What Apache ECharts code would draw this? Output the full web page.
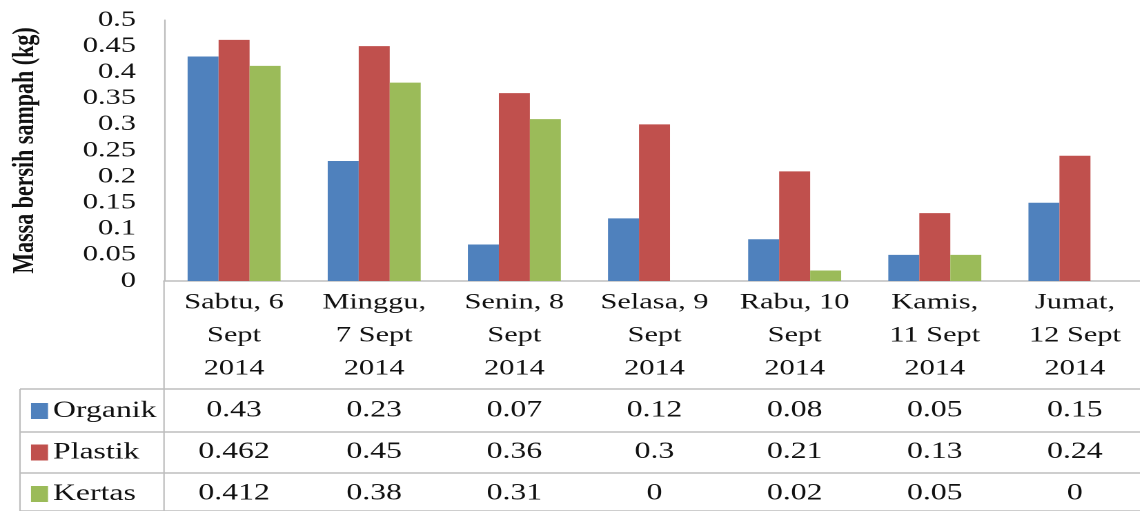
<!DOCTYPE html>
<html>
<head>
<meta charset="utf-8">
<script src="https://cdn.jsdelivr.net/npm/echarts@6/dist/echarts.min.js"></script>
<style>
  html, body { margin: 0; padding: 0; background: #fff; overflow: hidden; }
  #chart { height: 511px; transform-origin: 0 0; }
</style>
</head>
<body>
<div id="chart"></div>
<script>
// data
var categories = ['Sabtu, 6\nSept\n2014', 'Minggu,\n7 Sept\n2014', 'Senin, 8\nSept\n2014',
  'Selasa, 9\nSept\n2014', 'Rabu, 10\nSept\n2014', 'Kamis,\n11 Sept\n2014', 'Jumat,\n12 Sept\n2014'];
var seriesNames = ['Organik', 'Plastik', 'Kertas'];
var organik = [0.43, 0.23, 0.07, 0.12, 0.08, 0.05, 0.15];
var plastik = [0.462, 0.45, 0.36, 0.3, 0.21, 0.13, 0.24];
var kertas = [0.412, 0.38, 0.31, 0, 0.02, 0.05, 0];
var colors = ['#4F81BD', '#C0504D', '#9BBB59'];

// the original picture is stretched sideways, so draw narrow and stretch the div
var S = 1.38;
var font = 'Liberation Serif';
var lineColor = '#bdbdbd';
var textColor = '#111';
var allValues = [organik, plastik, kertas];
function px(x) { return x / S; }

var dom = document.getElementById('chart');
dom.style.width = px(1140) + 'px';
dom.style.transform = 'scaleX(' + S + ')';
var chart = echarts.init(dom, null, { renderer: 'canvas', devicePixelRatio: 2 });

// each table row is an extra category axis that only shows its labels
var tableAxes = allValues.map(function(vals, k) {
  return {
    type: 'category',
    data: categories,
    position: 'bottom',
    offset: 110 + k * 41.5,
    axisLine: { show: false },
    axisTick: { show: false },
    axisLabel: {
      interval: 0,
      margin: 8,
      fontFamily: font,
      fontSize: 23,
      color: textColor,
      formatter: function(v, i) { return String(vals[i]); }
    }
  };
});

var series = allValues.map(function(vals, k) {
  return {
    name: seriesNames[k],
    type: 'bar',
    data: vals,
    barWidth: px(31),
    barGap: '0%',
    itemStyle: { color: colors[k] }
  };
});

// table lines + legend column
var graphics = [];
var rowLines = [389, 432, 473, 511];
rowLines.forEach(function(y) {
  graphics.push({ type: 'line', shape: { x1: px(20), y1: y, x2: px(1140), y2: y },
    style: { stroke: lineColor, lineWidth: 1.5 } });
});
graphics.push({ type: 'line', shape: { x1: px(20), y1: 389, x2: px(20), y2: 511 },
  style: { stroke: lineColor, lineWidth: 1.5 / S } });
graphics.push({ type: 'line', shape: { x1: px(164), y1: 281, x2: px(164), y2: 511 },
  style: { stroke: lineColor, lineWidth: 1.5 / S } });
seriesNames.forEach(function(name, k) {
  var cy = 411 + k * 41.5;
  graphics.push({ type: 'rect', shape: { x: px(31), y: cy - 8, width: px(17), height: 16 },
    style: { fill: colors[k] } });
  graphics.push({ type: 'text', x: px(53), y: cy,
    style: { text: name, fontFamily: font, fontSize: 23, fill: textColor, verticalAlign: 'middle' } });
});

chart.setOption({
  animation: false,
  grid: { left: px(164), top: 20, width: px(981), height: 261, containLabel: false, outerBoundsMode: 'none' },
  xAxis: [{
    type: 'category',
    data: categories,
    axisLine: { lineStyle: { color: lineColor, width: 1.5 } },
    axisTick: { show: false },
    axisLabel: {
      interval: 0,
      margin: 5,
      fontFamily: font,
      fontSize: 22,
      lineHeight: 33,
      color: textColor
    }
  }].concat(tableAxes),
  yAxis: {
    type: 'value',
    min: 0,
    max: 0.5,
    interval: 0.05,
    name: 'Massa bersih sampah (kg)',
    nameLocation: 'middle',
    nameGap: 89.5,
    nameTextStyle: { fontFamily: font, fontSize: 22, fontWeight: 'bold', color: textColor },
    axisLine: { show: true, lineStyle: { color: lineColor, width: 1.5 / S } },
    axisTick: { show: false },
    splitLine: { show: false },
    axisLabel: { margin: px(28), padding: [5, 0, 0, 0], fontFamily: font, fontSize: 22, color: textColor }
  },
  series: series,
  graphic: graphics
});
</script>
</body>
</html>
